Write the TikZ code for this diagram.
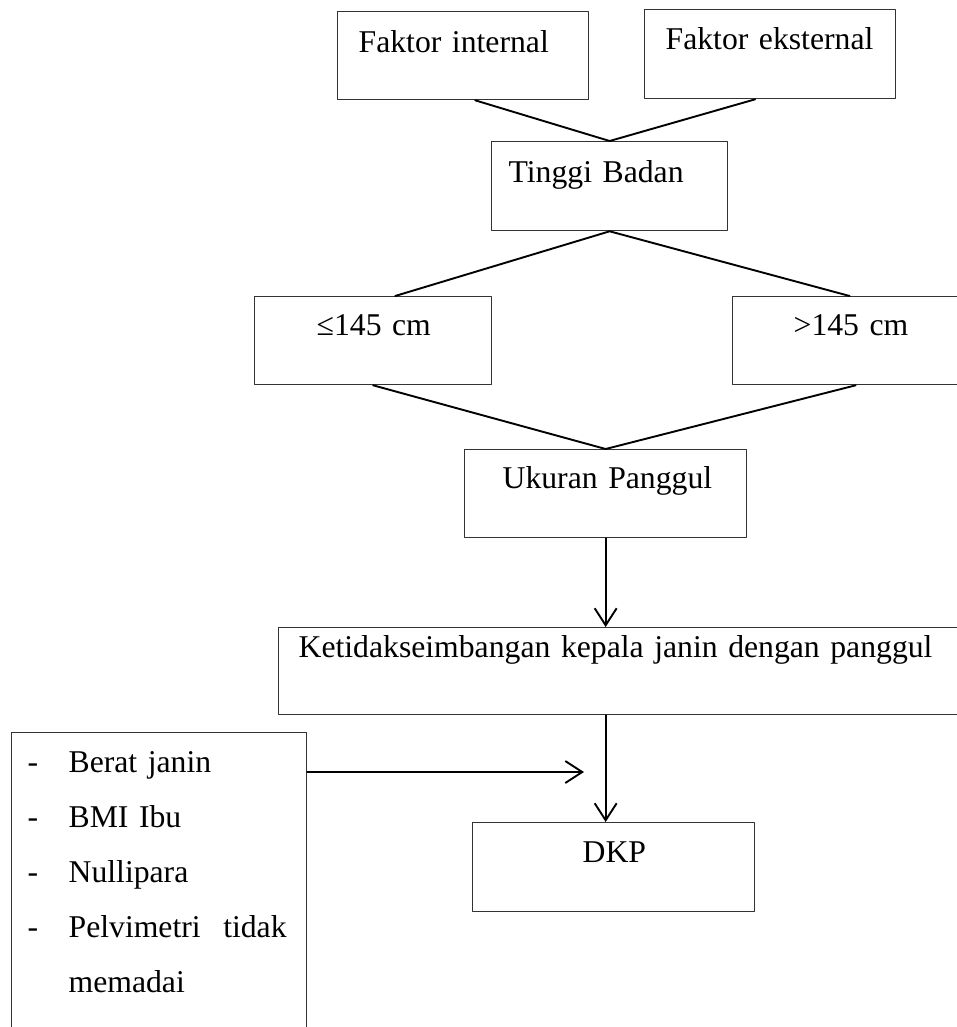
\documentclass[tikz,border=0pt]{standalone}
\usepackage{fontspec}
\setmainfont{Liberation Serif}
\usetikzlibrary{arrows.meta}
\newcommand{\butir}[1]{\hspace*{16pt}\makebox[41pt][l]{-}#1}
\begin{document}
\begin{tikzpicture}[x=1pt, y=-1pt, font=\fontsize{31.7}{55}\selectfont, line join=round, line cap=round, >={Straight Barb[length=17pt,width=22pt]},
	kotak/.style={draw=black!80, line width=1.3pt, inner sep=0pt, anchor=north west, align=left},
	garis/.style={line width=1.9pt}]
	\useasboundingbox (0,0) rectangle (957,1027);
	\foreach \n/\x/\y/\w/\h/\d/\p/\t in {fi/337/11/251/41/47/21/Faktor internal, fe/644/9/251/40/49/21/Faktor eksternal, tb/491/141/236/41/48/17/Tinggi Badan, le/254/296/237/39/49/62/≤145 cm, gt/732/296/234/39/49/61/>145 cm, uk/464/449/282/39/49/38/Ukuran Panggul, kt/278/627/692/30/57/20/Ketidakseimbangan kepala janin dengan panggul, dkp/472/822/282/40/49/110/DKP}
		\node[kotak, text width=\w, text height=\h, text depth=\d] (\n) at (\x,\y) {\hspace*{\p pt}\t};
	\node[kotak, text width=295, text height=40, text depth=270] (daftar) at (11,732) {\butir{Berat janin}\\\butir{BMI Ibu}\\\butir{Nullipara}\\\butir{\makebox[218pt]{Pelvimetri\hfill tidak}}\\\hspace*{57pt}memadai};
	\coordinate (ujung) at (584,772);
	\draw[garis] ([xshift=12]fi.south) -- (tb.north) -- ([xshift=-15]fe.south);
	\draw[garis] ([xshift=22]le.north) -- (tb.south) -- (gt.north);
	\draw[garis] (le.south) -- (uk.north) -- ([xshift=6]gt.south);
	\draw[garis,->] (uk.south) -- (uk.south |- kt.north);
	\draw[garis,->] (kt.south -| uk.south) -- (dkp.north -| uk.south);
	\draw[garis,->] (daftar.east |- ujung) -- (ujung);
\end{tikzpicture}
\end{document}
